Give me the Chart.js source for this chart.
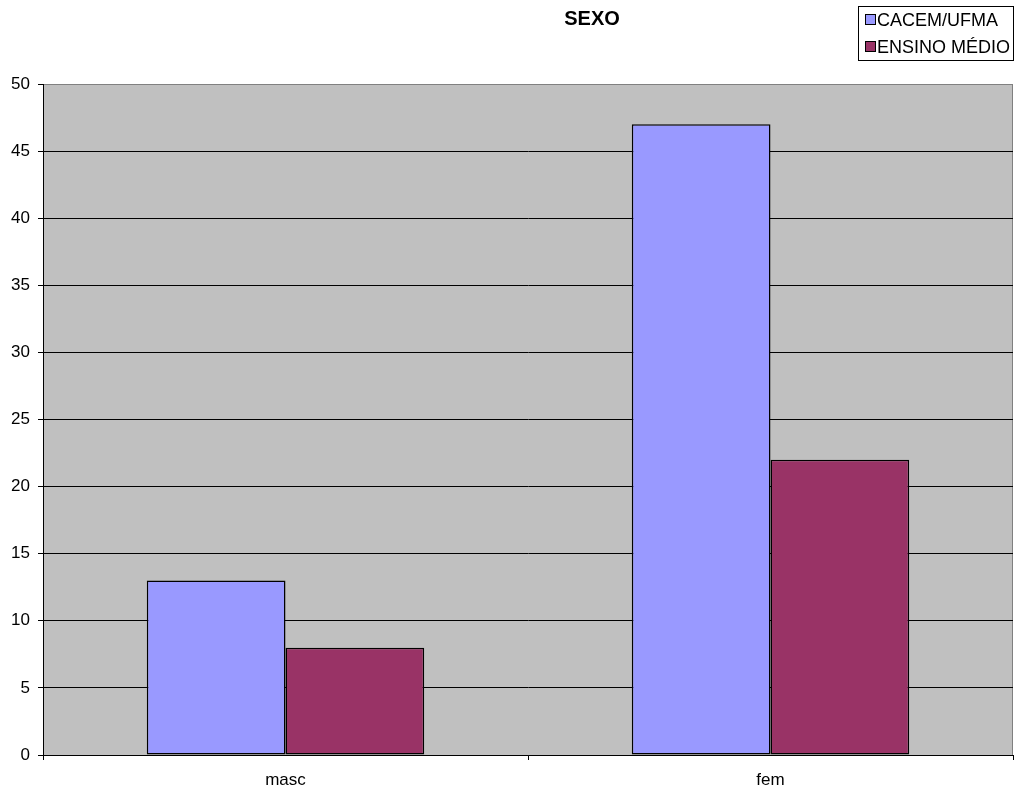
<!DOCTYPE html>
<html>
<head>
<meta charset="utf-8">
<script src="https://cdn.jsdelivr.net/npm/chart.js@4"></script>
<style>
    body { margin: 0; background: #fff; }
    #wrap { width: 1022px; height: 794px; }
</style>
</head>
<body>
<div id="wrap"><canvas id="chart"></canvas></div>
<script>
const categorias = ['masc', 'fem'];
const cacem = [13, 47];
const ensinoMedio = [8, 22];
const yTicks = [0, 5, 10, 15, 20, 25, 30, 35, 40, 45, 50];

const fontFamily = "'Liberation Sans', Arial, sans-serif";

// gray plot area with the gray border on top and right
const fundo = {
    id: 'fundo',
    beforeDraw(c) {
        const { ctx, chartArea: a } = c;
        ctx.save();
        ctx.fillStyle = '#C0C0C0';
        ctx.fillRect(a.left, a.top, a.right - a.left, a.bottom - a.top);
        ctx.strokeStyle = '#808080';
        ctx.lineWidth = 1;
        ctx.beginPath();
        ctx.moveTo(a.left, a.top + 0.5);
        ctx.lineTo(a.right - 0.5, a.top + 0.5);
        ctx.lineTo(a.right - 0.5, a.bottom);
        ctx.stroke();
        ctx.restore();
    }
};

// title and boxed legend
const titulo = {
    id: 'titulo',
    afterDraw(c) {
        const ctx = c.ctx;
        ctx.save();
        ctx.fillStyle = '#000';
        ctx.font = 'bold 20px ' + fontFamily;
        ctx.textAlign = 'center';
        ctx.textBaseline = 'middle';
        ctx.fillText('SEXO', 592, 19);

        ctx.strokeStyle = '#000';
        ctx.lineWidth = 1;
        ctx.strokeRect(858.5, 6.5, 155, 54);
        ctx.font = '18px ' + fontFamily;
        ctx.textAlign = 'left';
        c.data.datasets.forEach((ds, i) => {
            const y = 20 + i * 27;
            ctx.fillStyle = ds.backgroundColor;
            ctx.fillRect(865.5, y - 5.5, 10, 10);
            ctx.strokeRect(865.5, y - 5.5, 10, 10);
            ctx.fillStyle = '#000';
            ctx.fillText(ds.label, 877, y + 1);
        });
        ctx.restore();
    }
};

new Chart(document.querySelector('#chart'), {
    type: 'bar',
    data: {
        labels: categorias,
        datasets: [
            {
                label: 'CACEM/UFMA',
                data: cacem,
                backgroundColor: '#9999FF',
                borderColor: '#000',
                borderWidth: 1.5,
                borderSkipped: false
            },
            {
                label: 'ENSINO MÉDIO',
                data: ensinoMedio,
                backgroundColor: '#993366',
                borderColor: '#000',
                borderWidth: 1.5,
                borderSkipped: false
            }
        ]
    },
    options: {
        responsive: true,
        maintainAspectRatio: false,
        animation: false,
        categoryPercentage: 0.572,
        barPercentage: 1.0,
        layout: { padding: { top: 84, right: 9, left: 0, bottom: 0 } },
        plugins: {
            legend: { display: false },
            title: { display: false },
            tooltip: { enabled: false }
        },
        scales: {
            x: {
                afterFit(s) { s.height = 39; },
                grid: {
                    offset: true,
                    drawOnChartArea: false,
                    color: '#000',
                    tickLength: 5
                },
                border: { color: '#000' },
                ticks: {
                    color: '#000',
                    padding: 10,
                    font: { family: fontFamily, size: 17 }
                }
            },
            y: {
                min: 0,
                max: 50,
                afterFit(s) { s.width = 43; },
                afterBuildTicks(s) { s.ticks = yTicks.map(v => ({ value: v })); },
                grid: {
                    color: ctx => ctx.tick && ctx.tick.value === 50 ? '#808080' : '#000',
                    tickColor: '#000',
                    tickLength: 5
                },
                border: { color: '#000' },
                ticks: {
                    color: '#000',
                    padding: 8,
                    font: { family: fontFamily, size: 17 }
                }
            }
        }
    },
    plugins: [fundo, titulo]
});
</script>
</body>
</html>
